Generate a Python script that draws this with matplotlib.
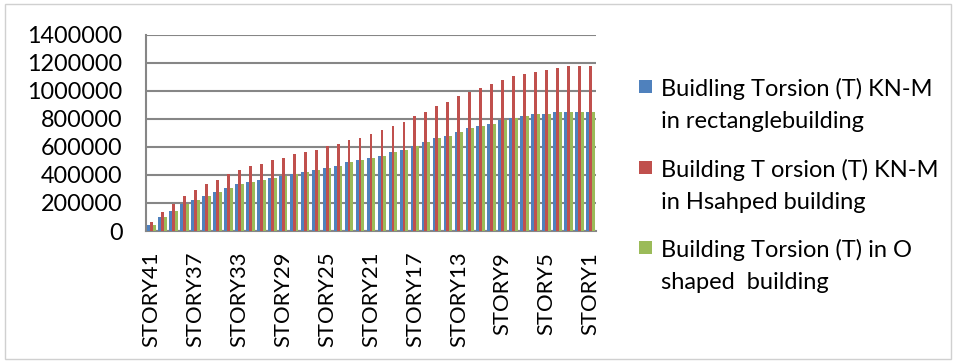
import numpy as np
import matplotlib
matplotlib.use("Agg")
import matplotlib.pyplot as plt
from matplotlib.patches import Rectangle

plt.rcParams['font.family'] = ['Lato', 'DejaVu Sans']

# Stories from top (STORY41) to bottom (STORY1)
stories = [f"STORY{n}" for n in range(41, 0, -1)]

# Torsion values, thousands of kN-m
rect_torsion = [46, 103, 146, 189, 218, 246, 275, 304, 332, 346, 361, 375, 389, 404,
                418, 432, 446, 461, 489, 504, 518, 532, 561, 575, 604, 632, 661, 675,
                704, 732, 746, 761, 789, 804, 818, 832, 832, 846, 846, 846, 846]
h_torsion = [61, 132, 189, 246, 289, 332, 361, 404, 432, 461, 475, 504, 518, 546,
             561, 575, 604, 618, 646, 661, 689, 718, 746, 775, 818, 846, 889, 918,
             961, 989, 1018, 1046, 1075, 1104, 1118, 1132, 1146, 1161, 1175, 1175, 1175]
o_torsion = [46, 103, 146, 189, 218, 246, 275, 304, 332, 346, 361, 375, 389, 404,
             418, 432, 446, 461, 489, 504, 518, 532, 561, 575, 604, 632, 661, 675,
             704, 732, 746, 761, 789, 804, 818, 832, 832, 846, 846, 846, 846]

series_labels = [
    ["Buidling Torsion (T) KN-M", "in rectanglebuilding"],
    ["Building T orsion (T) KN-M", "in Hsahped building"],
    ["Building Torsion (T) in O", "shaped  building"],
]
colors = ["#4F81BD", "#C0504D", "#9BBB59"]

W, H = 956, 362
fig = plt.figure(figsize=(W / 100, H / 100), dpi=100)

# outer chart border
fig.add_artist(Rectangle((5 / W, 3 / H), 946 / W, 355 / H, transform=fig.transFigure,
                         fill=False, edgecolor="#d0d0d0", linewidth=1))

ax = fig.add_axes([146 / W, 1 - 231 / H, 450 / W, (231 - 34.5) / H])

x = np.arange(len(stories))
bw = 0.26
data = [np.array(rect_torsion) * 1000, np.array(h_torsion) * 1000, np.array(o_torsion) * 1000]
for i, (vals, c) in enumerate(zip(data, colors)):
    ax.bar(x + (i - 1) * bw, vals, width=bw, color=c, linewidth=0, zorder=3)

ax.set_xlim(-0.5, len(stories) - 0.5)
ax.set_ylim(0, 1400000)
ax.set_yticks(np.arange(0, 1400001, 200000))
ax.set_yticklabels([str(v) for v in range(0, 1400001, 200000)])
ax.set_xticks(x[::4])
ax.set_xticklabels(stories[::4], rotation=90)

ax.grid(axis="y", color="#868686", linewidth=1.5, zorder=1)
ax.set_axisbelow(True)
for s in ["top", "right"]:
    ax.spines[s].set_visible(False)
for s in ["left", "bottom"]:
    ax.spines[s].set_color("#868686")
    ax.spines[s].set_linewidth(1.5)
ax.tick_params(axis="y", length=0, pad=17, labelsize=16.8)
ax.tick_params(axis="x", length=0, pad=15, labelsize=15.8)

# legend: square markers aligned with the first line of each two-line label
first_baselines = [96, 177, 257]
for (l1, l2), c, yb in zip(series_labels, colors, first_baselines):
    fig.add_artist(Rectangle((639 / W, 1 - (yb - 3) / H), 13 / W, 13 / H,
                             transform=fig.transFigure, facecolor=c, edgecolor="none"))
    fig.text(661 / W, 1 - yb / H, l1, fontsize=17, va="baseline", ha="left")
    fig.text(661 / W, 1 - (yb + 32) / H, l2, fontsize=17, va="baseline", ha="left")

fig.savefig("out.png", dpi=100)
